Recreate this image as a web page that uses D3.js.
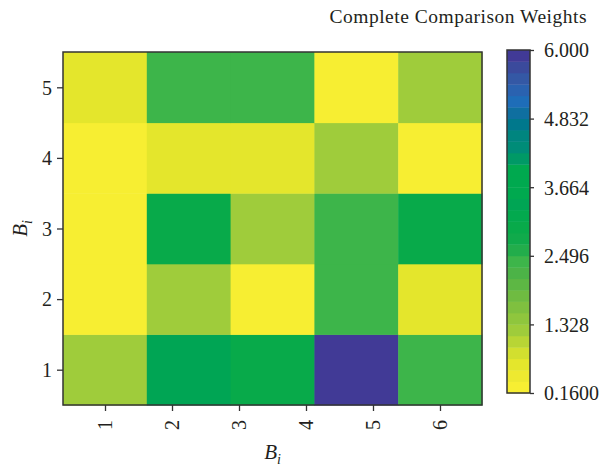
<!DOCTYPE html>
<html>
<head>
<meta charset="utf-8">
<script src="https://cdn.jsdelivr.net/npm/d3@7"></script>
<style>
  html, body { margin: 0; padding: 0; background: #fff; }
  svg { display: block; }
  text { font-family: "Liberation Serif", "DejaVu Serif", serif; fill: #231f20; }
</style>
</head>
<body>
<svg id="chart" width="600" height="466"></svg>
<script>
// ---- data ----
const columns = [1, 2, 3, 4, 5];
const rows = [1, 2, 3, 4, 5];
// weights[r][c] : row r (B_i = r+1), column c
const row1 = [1.25, 3.4, 3.0, 5.9, 2.4];
const row2 = [0.2, 1.25, 0.2, 2.4, 0.6];
const row3 = [0.2, 3.0, 1.25, 2.4, 3.0];
const row4 = [0.2, 0.6, 0.6, 1.25, 0.2];
const row5 = [0.6, 2.4, 2.4, 0.2, 1.25];
const weights = [row1, row2, row3, row4, row5];

const xTicks = [1, 2, 3, 4, 5, 6];
const yTicks = [1, 2, 3, 4, 5];
const colorTicks = [0.16, 1.328, 2.496, 3.664, 4.832, 6.0];
const colorTickLabels = ["0.1600", "1.328", "2.496", "3.664", "4.832", "6.000"];
const colorRange = [0.16, 6.0];
const bandColors = [
  "#f7ee32", "#eee930", "#e4e62c", "#d2df2f", "#b8d535", "#9fcc3b",
  "#8fc63d", "#7fc03f", "#6fbb41", "#5db744", "#4cb347", "#3db54a",
  "#22ad4b", "#10aa4b", "#08aa4a", "#03a94e", "#00a554", "#00a94f",
  "#00a94f", "#00a94f", "#009966", "#008c78", "#00857f", "#00788c",
  "#0f6fa0", "#1e6db8", "#2a62b0", "#3458a5", "#3b4a9c", "#413a96"
];
const title = "Complete Comparison Weights";

// ---- layout ----
const plot = { left: 63, right: 482, top: 52, bottom: 405 };
const cbar = { left: 507, right: 530, top: 50, bottom: 393 };

const svg = d3.select("#chart");

const xCell = d3.scaleBand().domain(columns).range([plot.left, plot.right]);
const xTick = d3.scaleLinear().domain([0.373, 6.627]).range([plot.left, plot.right]);
const y = d3.scaleLinear().domain([0.5, 5.5]).range([plot.bottom, plot.top]);
const color = d3.scaleQuantize().domain(colorRange).range(bandColors);

// cells
const cells = [];
weights.forEach((r, ri) => r.forEach((v, ci) => cells.push({ row: rows[ri], col: columns[ci], v })));
svg.append("g").selectAll("rect").data(cells).join("rect")
  .attr("x", d => xCell(d.col))
  .attr("width", xCell.bandwidth() + 0.5)
  .attr("y", d => y(d.row + 0.5))
  .attr("height", d => y(d.row - 0.5) - y(d.row + 0.5) + 0.5)
  .attr("fill", d => color(d.v));

// frame
svg.append("rect")
  .attr("x", plot.left).attr("y", plot.top)
  .attr("width", plot.right - plot.left).attr("height", plot.bottom - plot.top)
  .attr("fill", "none").attr("stroke", "#333").attr("stroke-width", 1.5);

// x axis
const xAxis = svg.append("g").attr("transform", `translate(0,${plot.bottom})`)
  .call(d3.axisBottom(xTick).tickValues(xTicks).tickSize(6).tickSizeOuter(0).tickFormat(d3.format("d")));
xAxis.select(".domain").remove();
xAxis.selectAll(".tick line").attr("stroke", "#333").attr("stroke-width", 1.3);
xAxis.selectAll(".tick text")
  .attr("font-size", 20).attr("font-family", "Liberation Serif").attr("fill", "#231f20")
  .attr("transform", "rotate(-90)")
  .attr("text-anchor", "end")
  .attr("x", -15).attr("y", 0).attr("dy", "0.33em");

// y axis
const yAxis = svg.append("g").attr("transform", `translate(${plot.left},0)`)
  .call(d3.axisLeft(y).tickValues(yTicks).tickSize(6).tickSizeOuter(0).tickFormat(d3.format("d")));
yAxis.select(".domain").remove();
yAxis.selectAll(".tick line").attr("stroke", "#333").attr("stroke-width", 1.3);
yAxis.selectAll(".tick text")
  .attr("font-size", 20).attr("font-family", "Liberation Serif").attr("fill", "#231f20")
  .attr("x", -11).attr("dy", "0.34em");

// axis titles
const xt = svg.append("text")
  .attr("x", (plot.left + plot.right) / 2).attr("y", 459)
  .attr("text-anchor", "middle").attr("font-size", 21).attr("font-style", "italic");
xt.append("tspan").text("B");
xt.append("tspan").attr("font-size", 14).attr("dy", 5).text("i");

const yt = svg.append("text")
  .attr("transform", `translate(27,${(plot.top + plot.bottom) / 2}) rotate(-90)`)
  .attr("text-anchor", "middle").attr("font-size", 21).attr("font-style", "italic");
yt.append("tspan").text("B");
yt.append("tspan").attr("font-size", 14).attr("dy", 5).text("i");

// colorbar
const yc = d3.scaleLinear().domain(colorRange).range([cbar.bottom, cbar.top]);
const bands = d3.range(bandColors.length).map(i => {
  const step = (colorRange[1] - colorRange[0]) / bandColors.length;
  const a = colorRange[0] + i * step;
  return { c: bandColors[i], a, b: a + step };
});
svg.append("g").selectAll("rect").data(bands).join("rect")
  .attr("x", cbar.left)
  .attr("width", cbar.right - cbar.left)
  .attr("y", d => yc(d.b))
  .attr("height", d => yc(d.a) - yc(d.b) + 0.4)
  .attr("fill", d => d.c);
svg.append("rect")
  .attr("x", cbar.left).attr("y", cbar.top)
  .attr("width", cbar.right - cbar.left).attr("height", cbar.bottom - cbar.top)
  .attr("fill", "none").attr("stroke", "#333").attr("stroke-width", 1.5);

const cAxis = svg.append("g").attr("transform", `translate(${cbar.right},0)`)
  .call(d3.axisRight(yc).tickValues(colorTicks).tickSize(4).tickSizeOuter(0)
    .tickFormat((d, i) => colorTickLabels[i]));
cAxis.select(".domain").remove();
cAxis.selectAll(".tick line").attr("stroke", "#333").attr("stroke-width", 1.3);
cAxis.selectAll(".tick text")
  .attr("font-size", 20).attr("font-family", "Liberation Serif").attr("fill", "#231f20")
  .attr("x", 14).attr("dy", "0.34em");

// title
svg.append("text")
  .attr("x", 587).attr("y", 23)
  .attr("text-anchor", "end").attr("font-size", 19.5).attr("letter-spacing", 0.5)
  .text(title);
</script>
</body>
</html>
